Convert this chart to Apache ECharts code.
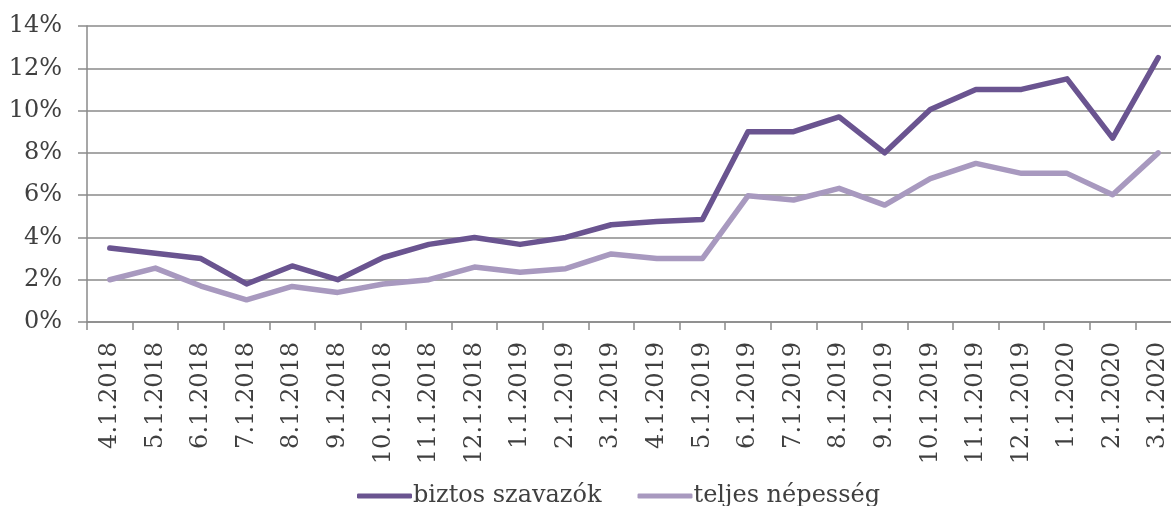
<!DOCTYPE html>
<html>
<head>
<meta charset="utf-8">
<script src="https://cdn.jsdelivr.net/npm/echarts@6/dist/echarts.min.js"></script>
<style>
html,body{margin:0;padding:0;background:#fff;overflow:hidden;width:1171px;height:506px;}
#c{width:1200px;height:506px;}
</style>
</head>
<body>
<div id="c"></div>
<script>
const categories = ["4.1.2018","5.1.2018","6.1.2018","7.1.2018","8.1.2018","9.1.2018","10.1.2018","11.1.2018","12.1.2018","1.1.2019","2.1.2019","3.1.2019","4.1.2019","5.1.2019","6.1.2019","7.1.2019","8.1.2019","9.1.2019","10.1.2019","11.1.2019","12.1.2019","1.1.2020","2.1.2020","3.1.2020"];
const biztosSzavazok = [3.5,3.25,3.0,1.8,2.65,2.0,3.05,3.67,4.0,3.67,4.0,4.6,4.75,4.85,9.0,9.0,9.7,8.0,10.05,11.0,11.0,11.5,8.7,12.5];
const teljesNepesseg = [2.0,2.55,1.7,1.05,1.68,1.4,1.8,2.0,2.6,2.35,2.52,3.22,3.0,3.0,5.97,5.77,6.32,5.53,6.78,7.5,7.03,7.03,6.02,8.0];
const seriesNames = ["biztos szavazók","teljes népesség"];
const yTicks = {min:0, max:14, interval:2};

const font = "DejaVu Serif";
const textColor = "#404040";
const gridColor = "#8a8a8a";

const chart = echarts.init(document.getElementById('c'), null, {renderer:'canvas'});
chart.setOption({
  animation:false,
  backgroundColor:'#fff',
  grid:{left:87, top:26, width:1094, height:296, containLabel:false},
  legend:{
    left:352, top:479,
    itemWidth:55, itemHeight:5, itemGap:36,
    icon:'roundRect',
    textStyle:{fontFamily:font, fontSize:24, color:textColor, padding:[0,0,0,-4]},
    data:seriesNames
  },
  xAxis:{
    type:'category',
    data:categories,
    boundaryGap:true,
    axisLine:{show:true, lineStyle:{color:gridColor, width:1.5}},
    axisTick:{show:true, length:8, alignWithLabel:false, lineStyle:{color:gridColor, width:1.5}},
    axisLabel:{rotate:90, margin:20, interval:0, fontFamily:font, fontSize:24, color:textColor},
    splitLine:{show:false}
  },
  yAxis:{
    type:'value',
    min:yTicks.min, max:yTicks.max, interval:yTicks.interval,
    axisLine:{show:true, lineStyle:{color:gridColor, width:1.5}},
    axisTick:{show:true, length:9, lineStyle:{color:gridColor, width:1.5}},
    axisLabel:{formatter:'{value}%', margin:25, fontFamily:font, fontSize:24, color:textColor},
    splitLine:{show:true, lineStyle:{color:gridColor, width:1.5}}
  },
  series:[
    {name:seriesNames[0], type:'line', data:biztosSzavazok, symbol:'none', smooth:false,
     itemStyle:{color:'#6a5490'},
     lineStyle:{color:'#6a5490', width:5.5, cap:'round', join:'round'}},
    {name:seriesNames[1], type:'line', data:teljesNepesseg, symbol:'none', smooth:false,
     itemStyle:{color:'#a899bf'},
     lineStyle:{color:'#a899bf', width:5.5, cap:'round', join:'round'}}
  ]
});
</script>
</body>
</html>
